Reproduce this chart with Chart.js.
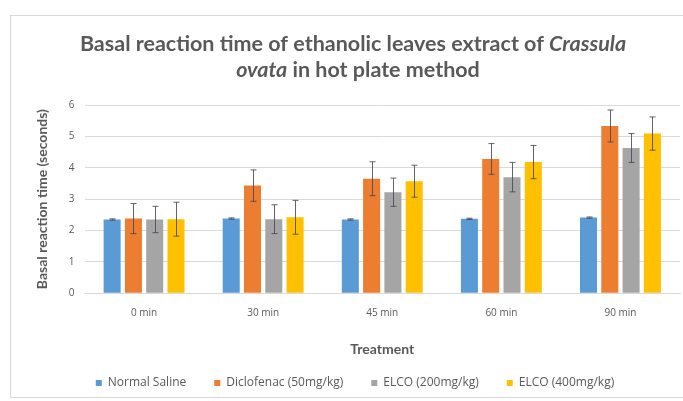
<!DOCTYPE html>
<html>
<head>
<meta charset="utf-8">
<script src="https://cdn.jsdelivr.net/npm/chart.js@4.4.0/dist/chart.umd.min.js"></script>
<style>
  html, body { margin: 0; padding: 0; background: #fff; }
  #wrap { position: relative; width: 683px; height: 401px; overflow: hidden; }
  #frame { position: absolute; left: 10px; top: 15px; width: 700px; height: 381px; border: 1px solid #d9d9d9; }
  canvas { position: absolute; left: 0; top: 0; }
</style>
</head>
<body>
<div id="wrap">
  <div id="frame"></div>
  <canvas id="chart" width="683" height="401"></canvas>
</div>
<script>
const categories = ["0 min", "30 min", "45 min", "60 min", "90 min"];
const seriesNames = ["Normal Saline", "Diclofenac (50mg/kg)", "ELCO (200mg/kg)", "ELCO (400mg/kg)"];
const normalSaline = [2.35, 2.38, 2.35, 2.37, 2.41];
const diclofenac = [2.38, 3.43, 3.65, 4.28, 5.33];
const elco200 = [2.35, 2.36, 3.22, 3.70, 4.63];
const elco400 = [2.36, 2.42, 3.57, 4.18, 5.09];
const errNormalSaline = [0.02, 0.02, 0.02, 0.02, 0.02];
const errDiclofenac = [0.48, 0.50, 0.54, 0.49, 0.51];
const errElco200 = [0.42, 0.46, 0.45, 0.47, 0.46];
const errElco400 = [0.54, 0.54, 0.51, 0.53, 0.53];
const colors = ["#5B9BD5", "#ED7D31", "#A5A5A5", "#FFC000"];

// title pieces: [text, italic]
const titleLine1 = [["Basal reaction time of ethanolic leaves extract of ", false], ["Crassula", true]];
const titleLine2 = [["ovata", true], [" in hot plate method", false]];

const allValues = [normalSaline, diclofenac, elco200, elco400];
const allErrors = [errNormalSaline, errDiclofenac, errElco200, errElco400];
const grey = "#595959";

// error bars drawn on top of each bar
const errorBars = {
  id: "errorBars",
  afterDatasetsDraw(chart) {
    const ctx = chart.ctx;
    const y = chart.scales.y;
    ctx.save();
    ctx.strokeStyle = "rgba(70,70,90,0.85)";
    ctx.lineWidth = 1;
    chart.data.datasets.forEach((ds, i) => {
      const meta = chart.getDatasetMeta(i);
      meta.data.forEach((bar, j) => {
        const v = ds.data[j];
        const e = allErrors[i][j];
        const top = y.getPixelForValue(v + e);
        const bot = y.getPixelForValue(v - e);
        const x = Math.round(bar.x) + 0.5;
        ctx.beginPath();
        ctx.moveTo(x, top);
        ctx.lineTo(x, bot);
        ctx.moveTo(x - 3, top);
        ctx.lineTo(x + 3, top);
        ctx.moveTo(x - 3, bot);
        ctx.lineTo(x + 3, bot);
        ctx.stroke();
      });
    });
    ctx.restore();
  }
};

// two-line title with italic species name
const mixedTitle = {
  id: "mixedTitle",
  afterDraw(chart) {
    const ctx = chart.ctx;
    const fontFor = (it) => (it ? "italic " : "") + "bold 21.5px Lato";
    const drawLine = (parts, cx, cy) => {
      let w = 0;
      parts.forEach(([t, it]) => { ctx.font = fontFor(it); w += ctx.measureText(t).width; });
      let x = cx - w / 2;
      parts.forEach(([t, it]) => {
        ctx.font = fontFor(it);
        ctx.fillText(t, x, cy);
        x += ctx.measureText(t).width;
      });
    };
    ctx.save();
    ctx.fillStyle = grey;
    ctx.textBaseline = "middle";
    ctx.textAlign = "left";
    drawLine(titleLine1, 353, 44);
    drawLine(titleLine2, 358, 70);
    ctx.restore();
  }
};

new Chart(document.getElementById("chart"), {
  type: "bar",
  data: {
    labels: categories,
    datasets: seriesNames.map((name, i) => ({
      label: name,
      data: allValues[i],
      backgroundColor: colors[i],
      barPercentage: 0.8,
      categoryPercentage: 0.715,
    })),
  },
  options: {
    responsive: false,
    animation: false,
    layout: { padding: { left: 30, right: 3, top: 105, bottom: 2 } },
    plugins: {
      title: { display: false },
      legend: {
        position: "bottom",
        labels: {
          color: grey,
          font: { family: "Open Sans", size: 12 },
          boxWidth: 6,
          boxHeight: 6,
          padding: 28,
        },
      },
      tooltip: { enabled: false },
    },
    scales: {
      x: {
        grid: { display: false },
        border: { color: "#d9d9d9" },
        ticks: { color: grey, font: { family: "Open Sans", size: 10 }, padding: 6 },
        title: {
          display: true,
          text: "Treatment",
          color: grey,
          font: { family: "Lato", size: 14, weight: "bold" },
          padding: { top: 16, bottom: -9 },
        },
      },
      y: {
        min: 0,
        max: 6,
        ticks: { stepSize: 1, color: grey, font: { family: "Open Sans", size: 10 }, padding: 10 },
        grid: { color: "#d9d9d9", drawTicks: false },
        border: { display: false },
        title: {
          display: true,
          text: "Basal reaction time (seconds)",
          color: grey,
          font: { family: "Lato", size: 14, weight: "bold" },
          padding: { bottom: 8 },
        },
      },
    },
  },
  plugins: [errorBars, mixedTitle],
});
</script>
</body>
</html>
